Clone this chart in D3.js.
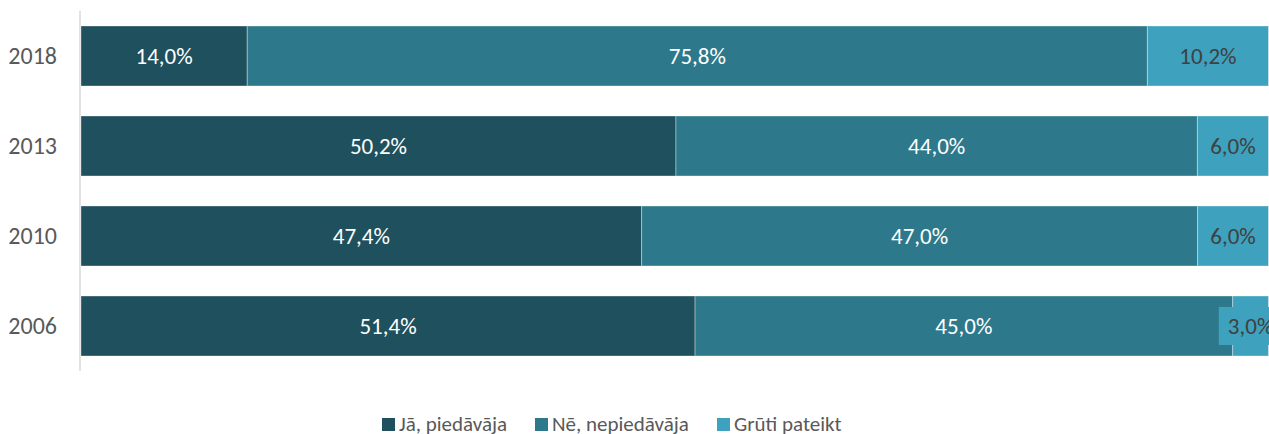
<!DOCTYPE html>
<html>
<head>
<meta charset="utf-8">
<script src="https://cdn.jsdelivr.net/npm/d3@7"></script>
<style>
  body { margin: 0; background: #fff; }
  svg { display: block; font-family: Carlito, Lato, "Open Sans", sans-serif; }
</style>
</head>
<body>
<script>
const years = ["2018", "2013", "2010", "2006"];
const ja = [14.0, 50.2, 47.4, 51.4];
const ne = [75.8, 44.0, 47.0, 45.0];
const gruti = [10.2, 6.0, 6.0, 3.0];
const seriesNames = ["Jā, piedāvāja", "Nē, nepiedāvāja", "Grūti pateikt"];
const colors = ["#1f505d", "#2d798b", "#3ea1bd"];
const labelColors = ["#ffffff", "#ffffff", "#404040"];

const width = 1269, height = 434;

const rows = years.map((y, i) => ({ year: y, s0: ja[i], s1: ne[i], s2: gruti[i] }));
const keys = ["s0", "s1", "s2"];

const stacked = d3.stack().keys(keys).offset(d3.stackOffsetExpand)(rows);

const svg = d3.select("body").append("svg")
  .attr("width", width)
  .attr("height", height);

const x = d3.scaleLinear().domain([0, 1]).range([81, 1268.5]);
const y = d3.scaleBand().domain(years).range([11, 371])
  .paddingInner(1 / 3).paddingOuter(1 / 6);

const loc = d3.formatLocale({ decimal: ",", thousands: " ", grouping: [3], currency: ["", ""] });
const fmt = loc.format(".1f");

// axis line
svg.append("line")
  .attr("x1", 80).attr("x2", 80)
  .attr("y1", 11).attr("y2", 371)
  .attr("stroke", "#d9d9d9")
  .attr("stroke-width", 1.5);

// year labels
svg.append("g")
  .selectAll("text")
  .data(years)
  .enter().append("text")
  .attr("x", 57)
  .attr("y", d => y(d) + y.bandwidth() / 2)
  .attr("dy", "0.35em")
  .attr("text-anchor", "end")
  .attr("fill", "#595959")
  .attr("font-size", 24)
  .text(d => d);

const layer = svg.append("g")
  .selectAll("g")
  .data(stacked)
  .enter().append("g")
  .attr("fill", (d, i) => colors[i]);

layer.selectAll("rect")
  .data(d => d)
  .enter().append("rect")
  .attr("x", d => x(d[0]))
  .attr("width", d => x(d[1]) - x(d[0]))
  .attr("y", d => y(d.data.year))
  .attr("height", y.bandwidth())
  .attr("stroke", "#ffffff")
  .attr("stroke-opacity", 0.35)
  .attr("stroke-width", 1);

// data labels
stacked.forEach((s, si) => {
  s.forEach(d => {
    const cx = (x(d[0]) + x(d[1])) / 2;
    const cy = y(d.data.year) + y.bandwidth() / 2;
    const val = d.data[keys[si]];
    const segW = x(d[1]) - x(d[0]);
    const g = svg.append("g");
    const t = g.append("text")
      .attr("x", cx)
      .attr("y", cy)
      .attr("dy", "0.35em")
      .attr("text-anchor", "middle")
      .attr("fill", labelColors[si])
      .attr("font-size", 23)
      .text(fmt(val) + "%");
    const bb = t.node().getBBox();
    if (bb.width + 8 > segW) {
      g.insert("rect", "text")
        .attr("x", bb.x - 9)
        .attr("y", cy - 19)
        .attr("width", bb.width + 18)
        .attr("height", 38)
        .attr("fill", colors[si]);
    }
  });
});

// legend
const legendX = [382, 535, 717];
const legend = svg.append("g")
  .selectAll("g")
  .data(seriesNames)
  .enter().append("g")
  .attr("transform", (d, i) => `translate(${legendX[i]},0)`);

legend.append("rect")
  .attr("x", 0).attr("y", 418)
  .attr("width", 13).attr("height", 13)
  .attr("fill", (d, i) => colors[i]);

legend.append("text")
  .attr("x", 17)
  .attr("y", 431)
  .attr("fill", "#595959")
  .attr("font-size", 21)
  .text(d => d);
</script>
</body>
</html>
